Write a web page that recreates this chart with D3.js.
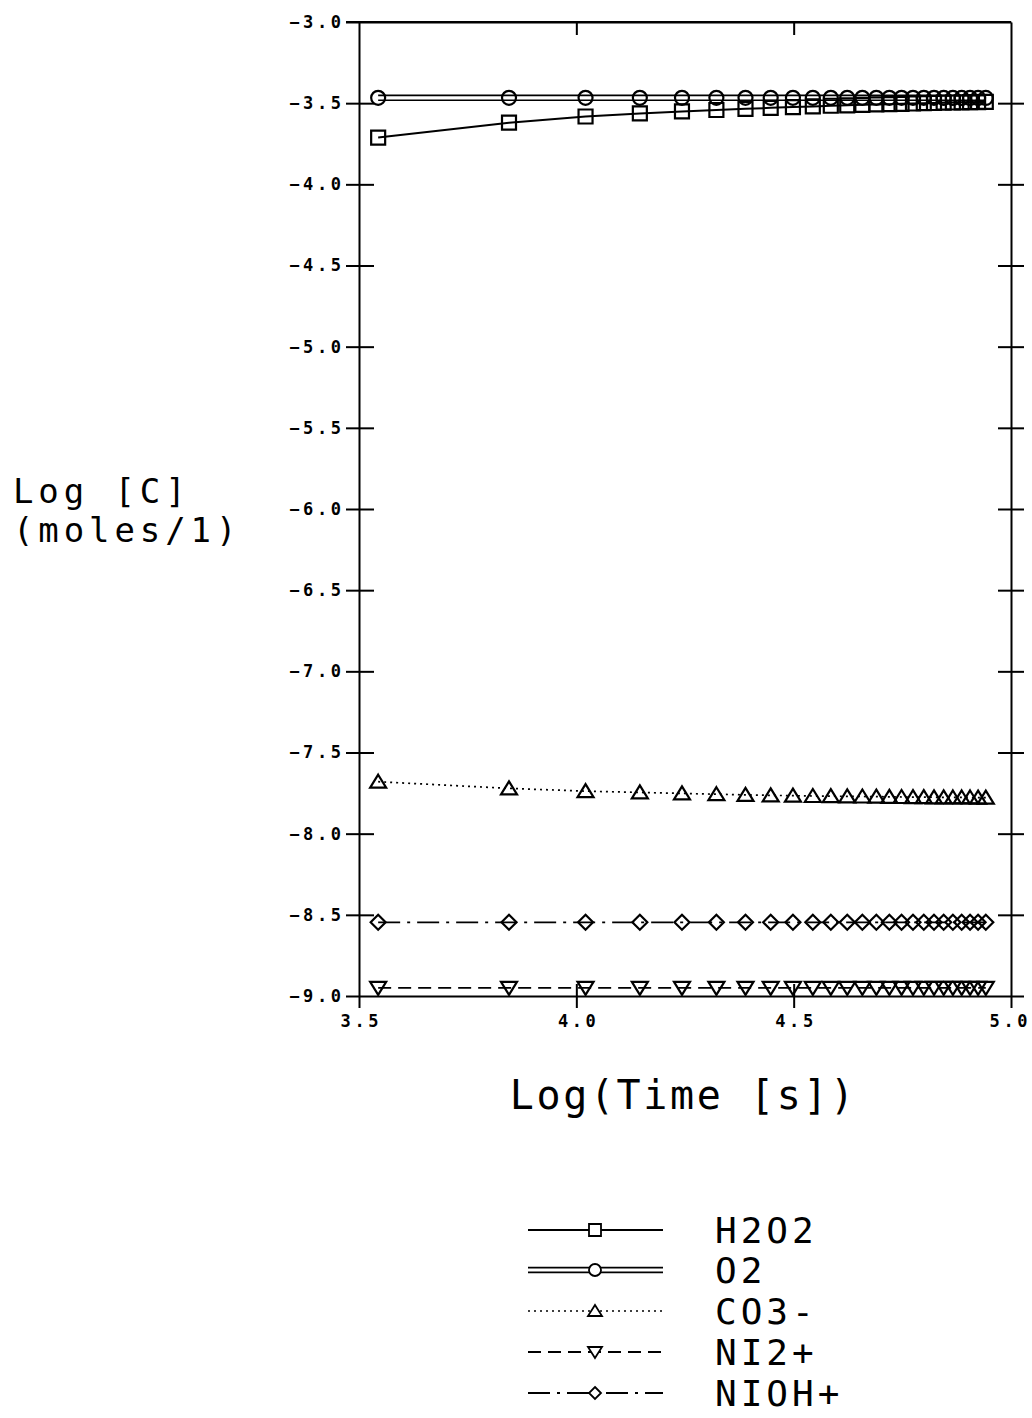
<!DOCTYPE html>
<html>
<head>
<meta charset="utf-8">
<script src="https://cdn.jsdelivr.net/npm/d3@7"></script>
<style>
  body { margin: 0; background: #fff; }
  svg { display: block; }
  .tick text { font-family: "DejaVu Sans Mono", monospace; font-weight: bold; font-size: 17px; letter-spacing: 3.6px; fill: #000; }
  .domain, .tick line { stroke: #000; stroke-width: 2; }
</style>
</head>
<body>
<div id="chart"></div>
<script>
// time points (s), one every 3500 s
var times = [3500, 7000, 10500, 14000, 17500, 21000, 24500, 28000, 31500, 35000,
             38500, 42000, 45500, 49000, 52500, 56000, 59500, 63000, 66500, 70000,
             73500, 77000, 80500, 84000, 87500];

var h2o2 = [-3.712, -3.620, -3.582, -3.563, -3.551, -3.542, -3.535, -3.529, -3.524, -3.520,
            -3.516, -3.513, -3.510, -3.508, -3.506, -3.504, -3.502, -3.500, -3.499, -3.497,
            -3.496, -3.495, -3.494, -3.493, -3.492];
var o2 = [-3.467, -3.467, -3.467, -3.467, -3.467, -3.467, -3.467, -3.467, -3.467, -3.467,
          -3.467, -3.467, -3.467, -3.467, -3.467, -3.467, -3.467, -3.467, -3.467, -3.468,
          -3.468, -3.468, -3.468, -3.468, -3.468];
var co3 = [-7.680, -7.721, -7.738, -7.746, -7.752, -7.757, -7.761, -7.764, -7.766, -7.768,
           -7.769, -7.770, -7.771, -7.772, -7.773, -7.774, -7.775, -7.775, -7.776, -7.776,
           -7.777, -7.777, -7.777, -7.778, -7.778];
var ni2 = [-8.950, -8.950, -8.950, -8.950, -8.950, -8.950, -8.950, -8.950, -8.950, -8.950,
           -8.950, -8.950, -8.950, -8.950, -8.950, -8.950, -8.950, -8.950, -8.950, -8.950,
           -8.950, -8.950, -8.950, -8.950, -8.950];
var nioh = [-8.546, -8.546, -8.546, -8.546, -8.546, -8.546, -8.546, -8.546, -8.546, -8.546,
            -8.546, -8.546, -8.546, -8.546, -8.546, -8.546, -8.546, -8.546, -8.546, -8.546,
            -8.546, -8.546, -8.546, -8.546, -8.546];

var names = ["H2O2", "O2", "CO3-", "NI2+", "NIOH+"];
var xTicks = [3.5, 4.0, 4.5, 5.0];
var yTicks = [-9.0, -8.5, -8.0, -7.5, -7.0, -6.5, -6.0, -5.5, -5.0, -4.5, -4.0, -3.5, -3.0];

var W = 1032, H = 1418;
var x0 = 359, x1 = 1011, y0 = 22, y1 = 996;

var svg = d3.select("#chart").append("svg")
    .attr("width", W)
    .attr("height", H);

var x = d3.scaleLog().domain([Math.pow(10, 3.5), 1e5]).range([x0, x1]);
var y = d3.scaleLinear().domain([-9, -3]).range([y1, y0]);

var xTickVals = xTicks.map(function(d) { return Math.pow(10, d); });
var fmt = function(d) { return d.toFixed(1).replace("-", "\u2212"); };

// left axis: labels outside, ticks crossing
svg.append("g").attr("transform", "translate(" + x0 + ",0)")
    .call(d3.axisLeft(y).tickValues(yTicks).tickFormat(fmt).tickSize(13).tickSizeOuter(0).tickPadding(5))
    .selectAll("text").attr("dx", "3.6px");
svg.append("g").attr("transform", "translate(" + x0 + ",0)")
    .call(d3.axisRight(y).tickValues(yTicks.slice(1, -1)).tickFormat("").tickSize(15).tickSizeOuter(0))
    .select(".domain").remove();

// right axis
svg.append("g").attr("transform", "translate(" + x1 + ",0)")
    .call(d3.axisRight(y).tickValues(yTicks.slice(0, -1)).tickFormat("").tickSize(13).tickSizeOuter(0));
svg.append("g").attr("transform", "translate(" + x1 + ",0)")
    .call(d3.axisLeft(y).tickValues(yTicks.slice(1, -1)).tickFormat("").tickSize(13).tickSizeOuter(0))
    .select(".domain").remove();

// bottom axis
var xAx = svg.append("g").attr("transform", "translate(0," + y1 + ")")
    .call(d3.axisBottom(x).tickValues(xTickVals).tickFormat(function(d) { return Math.log10(d).toFixed(1); })
      .tickSize(12).tickSizeOuter(0).tickPadding(7));
xAx.selectAll("text").attr("dx", "1.8px");
// last label sits against the page edge
xAx.selectAll(".tick").filter(function(d, i) { return i === xTicks.length - 1; })
    .select("text").attr("text-anchor", "end").attr("x", 1027 - x1 + 3.6).attr("dx", null);
svg.append("g").attr("transform", "translate(0," + y1 + ")")
    .call(d3.axisTop(x).tickValues(xTickVals.slice(1, -1)).tickFormat("").tickSize(12).tickSizeOuter(0))
    .select(".domain").remove();

// top axis, inward ticks only
svg.append("g").attr("transform", "translate(0," + y0 + ")")
    .call(d3.axisBottom(x).tickValues(xTickVals.slice(1, -1)).tickFormat("").tickSize(13).tickSizeOuter(0));
svg.append("line").attr("x1", x0 - 13).attr("x2", x1).attr("y1", y0).attr("y2", y0)
    .attr("stroke", "#000").attr("stroke-width", 2);

// marker shapes
function marker(type, s) {
  var h = s / 2;
  if (type === "square") return "M" + (-h) + "," + (-h) + "h" + s + "v" + s + "h" + (-s) + "Z";
  if (type === "circle") return "M" + h + ",0A" + h + "," + h + " 0 1,1 " + (-h) + ",0A" + h + "," + h + " 0 1,1 " + h + ",0Z";
  if (type === "up") return "M0," + (-h) + "L" + (h + 1) + "," + (h - 1) + "L" + (-h - 1) + "," + (h - 1) + "Z";
  if (type === "down") return "M0," + h + "L" + (h + 1) + "," + (-h + 1) + "L" + (-h - 1) + "," + (-h + 1) + "Z";
  return "M0," + (-h) + "L" + h + ",0L0," + h + "L" + (-h) + ",0Z";
}

var series = [
  { name: names[0], vals: h2o2, shape: "square", dash: null, double: false, w: 2 },
  { name: names[1], vals: o2, shape: "circle", dash: null, double: true, w: 1.6 },
  { name: names[2], vals: co3, shape: "up", dash: "2,4", double: false, w: 1.7 },
  { name: names[3], vals: ni2, shape: "down", dash: "13,7", double: false, w: 1.8 },
  { name: names[4], vals: nioh, shape: "diamond", dash: "22,7,3,7", double: false, w: 1.8 }
];

var line = d3.line()
    .x(function(d) { return x(d[0]); })
    .y(function(d) { return y(d[1]); });

series.forEach(function(s) {
  var pts = times.map(function(t, i) { return [t, s.vals[i]]; });
  var offs = s.double ? [-2.4, 2.4] : [0];
  offs.forEach(function(o) {
    svg.append("path")
      .datum(pts)
      .attr("transform", "translate(0," + o + ")")
      .attr("d", line)
      .attr("fill", "none")
      .attr("stroke", "#000")
      .attr("stroke-width", s.w)
      .attr("stroke-dasharray", s.dash);
  });
  svg.append("g").selectAll("path")
    .data(pts)
    .enter().append("path")
    .attr("transform", function(d) { return "translate(" + x(d[0]) + "," + y(d[1]) + ")"; })
    .attr("d", marker(s.shape, s.shape === "diamond" ? 15 : 14))
    .attr("fill", "none")
    .attr("stroke", "#000")
    .attr("stroke-width", 2.2);
});

// axis titles
svg.append("text")
    .attr("x", 682).attr("y", 1109)
    .attr("text-anchor", "middle")
    .attr("dx", "1.3px")
    .style("font", "40px 'DejaVu Sans Mono', monospace")
    .style("letter-spacing", "2.6px")
    .text("Log(Time [s])");

svg.append("text")
    .attr("x", 13).attr("y", 503)
    .style("font", "34px 'DejaVu Sans Mono', monospace")
    .style("letter-spacing", "4.9px")
    .text("Log [C]");
svg.append("text")
    .attr("x", 13).attr("y", 542)
    .style("font", "34px 'DejaVu Sans Mono', monospace")
    .style("letter-spacing", "4.9px")
    .text("(moles/1)");

// legend
var legRows = [1230, 1270, 1311, 1352, 1393];
var leg = svg.append("g").selectAll("g")
    .data(series)
    .enter().append("g")
    .attr("transform", function(d, i) { return "translate(0," + legRows[i] + ")"; });

leg.each(function(s) {
  var g = d3.select(this);
  var offs = s.double ? [-2.4, 2.4] : [0];
  offs.forEach(function(o) {
    g.append("line")
      .attr("x1", 528).attr("x2", 663).attr("y1", o).attr("y2", o)
      .attr("stroke", "#000")
      .attr("stroke-width", s.w)
      .attr("stroke-dasharray", s.dash);
  });
  g.append("path")
    .attr("transform", "translate(595,0)")
    .attr("d", marker(s.shape, 12))
    .attr("fill", "#fff")
    .attr("stroke", "#000")
    .attr("stroke-width", 1.8);
  g.append("text")
    .attr("x", 715).attr("y", 13)
    .style("font", "36px 'DejaVu Sans Mono', monospace")
    .style("letter-spacing", "4px")
    .text(s.name);
});
</script>
</body>
</html>
